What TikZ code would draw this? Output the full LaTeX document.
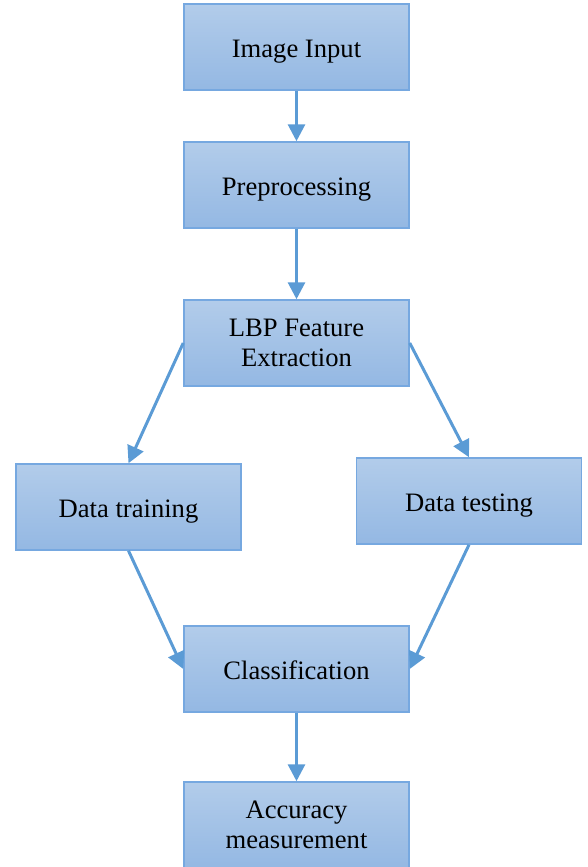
\documentclass[tikz,border=0pt]{standalone}
\usepackage{fontspec}
\setmainfont{Liberation Serif}
\usetikzlibrary{arrows.meta}
\definecolor{boxtop}{RGB}{178,204,234}
\definecolor{boxbot}{RGB}{148,184,227}
\definecolor{boxline}{RGB}{118,168,224}
\definecolor{arrowc}{RGB}{91,155,213}
\tikzset{
  flowbox/.style={draw=boxline, line width=1.5pt, top color=boxtop, bottom color=boxbot,
    minimum width=225pt, minimum height=86pt, inner sep=0pt, align=center,
    font=\fontsize{26.6}{30}\selectfont, text=black},
  oneline/.style={text height=20.5pt, text depth=0pt},
  flowarrow/.style={draw=arrowc, line width=3pt, -{Triangle[length=17pt,width=17pt]}}
}
\begin{document}
\begin{tikzpicture}[x=1pt,y=-1pt]
\useasboundingbox (0,0) rectangle (587,867);
\clip (0,0) rectangle (587,867);
\node[flowbox,oneline] (img) at (296.5,47) {Image Input};
\node[flowbox,oneline] (pre) at (296.5,185) {Preprocessing};
\node[flowbox] (lbp) at (296.5,343) {LBP Feature\\Extraction};
\node[flowbox,oneline] (train) at (128.5,507) {Data training};
\node[flowbox,oneline] (test) at (469,501) {Data testing};
\node[flowbox,oneline] (cls) at (296.5,669) {Classification};
\node[flowbox] (acc) at (296.5,825) {Accuracy\\measurement};
\draw[flowarrow] (img.south) -- (pre.north);
\draw[flowarrow] (pre.south) -- (lbp.north);
\draw[flowarrow] (lbp.west) -- (train.north);
\draw[flowarrow] (lbp.east) -- (test.north);
\draw[flowarrow] (train.south) -- (cls.west);
\draw[flowarrow] (test.south) -- (cls.east);
\draw[flowarrow] (cls.south) -- (acc.north);
\end{tikzpicture}
\end{document}
